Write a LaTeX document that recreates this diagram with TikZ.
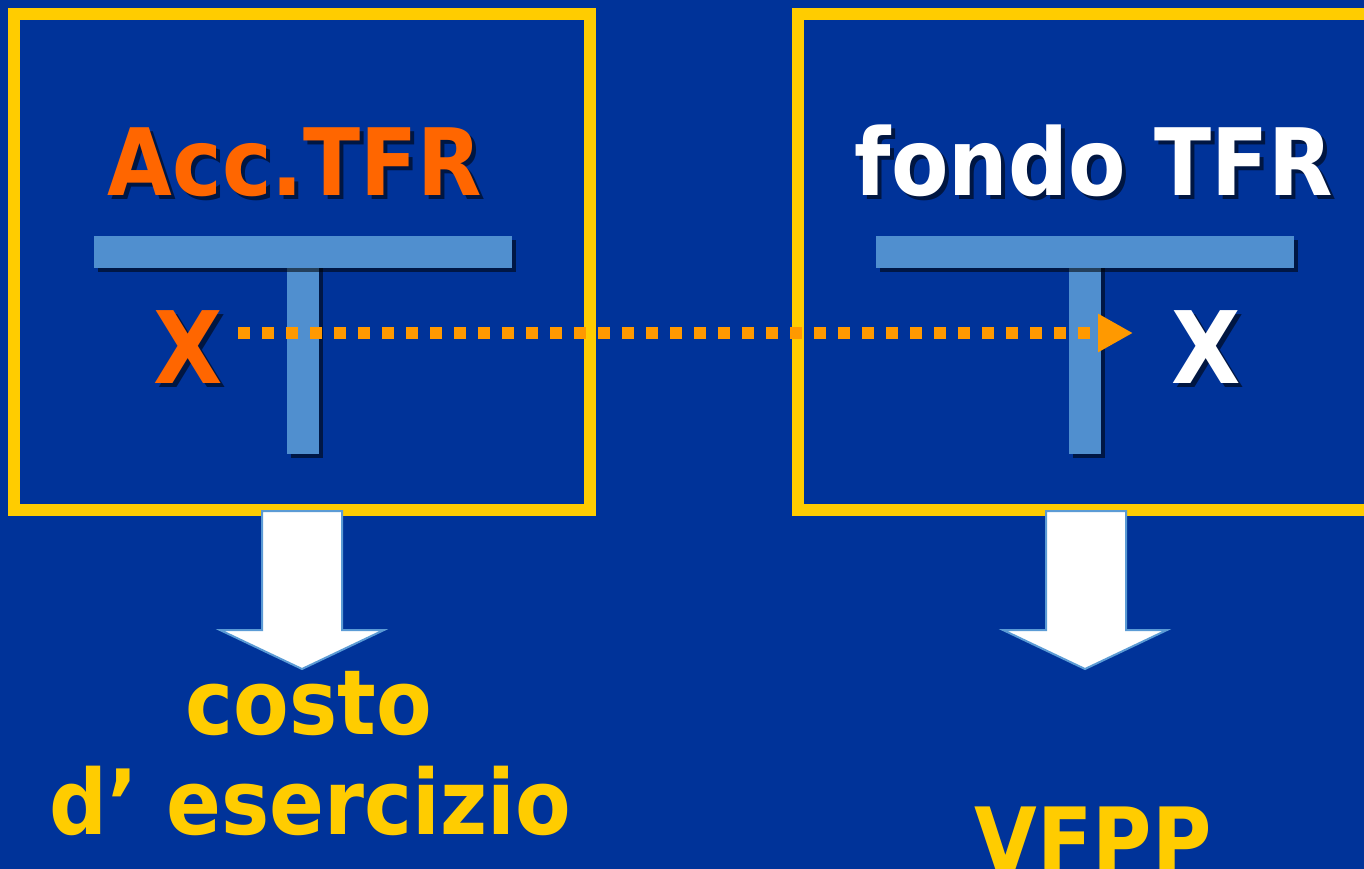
\documentclass[tikz,border=0pt]{standalone}
\usepackage{fontspec}
\newfontfamily\bfont[FakeStretch=0.9]{DejaVu Sans Bold}
\usetikzlibrary{shadows,arrows.meta}
\definecolor{bg}{RGB}{0,51,153}
\definecolor{frameY}{RGB}{255,204,0}
\definecolor{barc}{RGB}{80,143,207}
\definecolor{orangeT}{RGB}{255,102,0}
\definecolor{dotc}{RGB}{255,153,0}
\definecolor{arrowline}{RGB}{91,155,213}
\definecolor{shade}{RGB}{0,22,66}
% text with a drop shadow, set in one box
\newcommand{\shtext}[1]{\makebox[0pt][l]{\hspace{4pt}\raisebox{-4pt}{\textcolor{shade}{#1}}}#1}
\tikzset{
  frame/.style={draw=frameY, line width=12pt, minimum width=576pt, minimum height=496pt, inner sep=0pt},
  bar/.style={fill=barc, drop shadow={shadow xshift=4pt, shadow yshift=-4pt, opacity=0.55, fill=black}},
  big/.style={font=\bfont\fontsize{93}{100}\selectfont, anchor=base, inner sep=0pt},
  bigx/.style={font=\bfont\fontsize{100}{110}\selectfont, anchor=base, inner sep=0pt},
  label/.style={font=\bfont\fontsize{90}{100}\selectfont, anchor=base, inner sep=0pt, text=frameY},
  downarrow/.style={fill=white, draw=arrowline, line width=2pt, line join=miter},
}
\begin{document}
\begin{tikzpicture}[x=1pt, y=-1pt]
\fill[bg] (0,0) rectangle (1364,869);
\useasboundingbox (0,0) rectangle (1364,869);

% frames
\node[frame] (boxL) at (302,262) {};
\node[frame] (boxR) at (1086,262) {};

% T accounts
\path[bar] (287,262) rectangle (319,454);
\path[bar] (94,236) rectangle (512,268);
\path[bar] (1069,262) rectangle (1101,454);
\path[bar] (876,236) rectangle (1294,268);

% titles
\node[big, text=orangeT] (accT) at (295,195) {\shtext{Acc.TFR}};
\node[big, text=white] (fondoT) at (1094,195) {\shtext{fondo TFR}};

% X entries
\node[bigx, text=orangeT] (xL) at (188,383) {\shtext{X}};
\node[bigx, text=white] (xR) at (1206,383) {\shtext{X}};

% dotted connector
\coordinate (dotS) at (238,333);
\coordinate (dotE) at (1133,333);
\draw[dotc, line width=12pt, dash pattern=on 12pt off 12pt,
      -{Triangle[length=35pt, width=36pt]}] (dotS) -- (dotE);

% down arrows
\draw[downarrow] (262,511) -- (342,511) -- (342,630) -- (384,630) -- (302,669)
   -- (220,630) -- (262,630) -- cycle;
\draw[downarrow] (1046,511) -- (1126,511) -- (1126,630) -- (1167,630) -- (1085,669)
   -- (1003,630) -- (1046,630) -- cycle;

% bottom labels
\node[label] (costo) at (309,734) {costo};
\node[label] (eserc) at (310,834) {d’ esercizio};
\node[label] (vfpp) at (1093,872) {VFPP};
\end{tikzpicture}
\end{document}
